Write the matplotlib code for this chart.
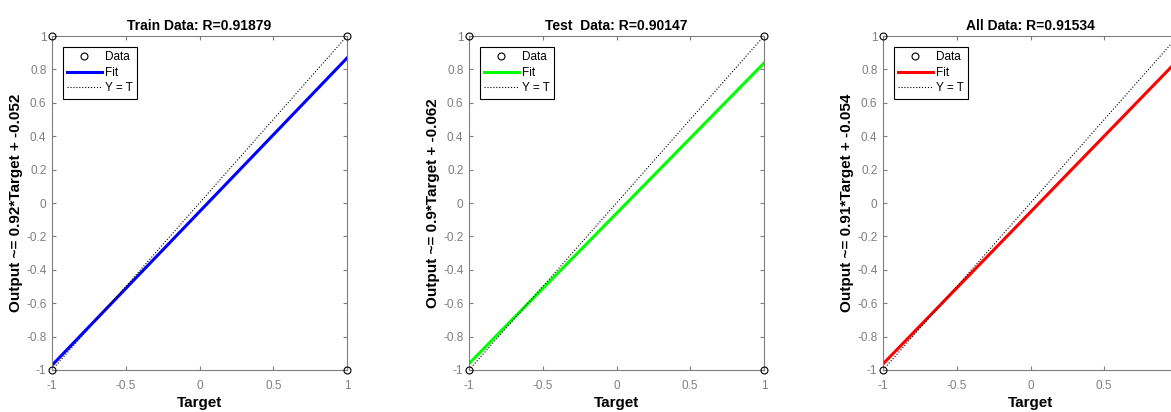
import numpy as np
import matplotlib.pyplot as plt

plt.rcParams['font.family'] = ['Liberation Sans', 'DejaVu Sans']

# panel data
titles = ['Train Data: R=0.91879', 'Test  Data: R=0.90147', 'All Data: R=0.91534']
slopes = [0.92, 0.9, 0.91]
intercepts = [-0.052, -0.062, -0.054]
ylabels = ['Output ~= 0.92*Target + -0.052',
           'Output ~= 0.9*Target + -0.062',
           'Output ~= 0.91*Target + -0.054']
fit_colors = ['blue', '#00ff00', 'red']
target = [-1, 1, -1, 1]
output = [-1, -1, 1, 1]
xticks = [-1, -0.5, 0, 0.5, 1]
xticklabels = ['-1', '-0.5', '0', '0.5', '1']
yticks = [-1, -0.8, -0.6, -0.4, -0.2, 0, 0.2, 0.4, 0.6, 0.8, 1]
yticklabels = ['-1', '-0.8', '-0.6', '-0.4', '-0.2', '0',
               '0.2', '0.4', '0.6', '0.8', '1']

fig = plt.figure(figsize=(11.71, 4.12), dpi=100)
lefts = [52, 469, 883]
gray = '#7f7f7f'

for i in range(3):
    ax = fig.add_axes([lefts[i] / 1171, 42 / 412, 295 / 1171, 334 / 412])
    xs = np.array([-1, 1])
    ax.plot(target, output, 'o', mfc='none', mec='black', ms=5, mew=0.8,
            label='Data', clip_on=False, zorder=5)
    ax.plot(xs, slopes[i] * xs + intercepts[i], color=fit_colors[i], lw=2.2,
            label='Fit')
    ax.plot(xs, xs, ':', color='black', lw=0.8, label='Y = T')
    ax.set_xlim(-1, 1)
    ax.set_ylim(-1, 1)
    ax.set_xticks(xticks)
    labels = list(xticklabels)
    if i == 2:
        # last panel runs off the right edge in the original
        labels[-1] = ''
    ax.set_xticklabels(labels)
    ax.set_yticks(yticks)
    ax.set_yticklabels(yticklabels)
    ax.tick_params(direction='in', top=True, right=True, length=3,
                   color=gray, labelcolor=gray, labelsize=8.5, width=0.8)
    ax.tick_params(axis='x', pad=7)
    ax.tick_params(axis='y', pad=4)
    for s in ax.spines.values():
        s.set_color(gray)
        s.set_linewidth(0.8)
    ax.set_title(titles[i], fontsize=10, fontweight='bold', pad=4)
    ax.set_xlabel('Target', fontsize=11, fontweight='bold', labelpad=3)
    ax.set_ylabel(ylabels[i], fontsize=11, fontweight='bold', labelpad=2)
    leg = ax.legend(loc='upper left', fontsize=8.5, fancybox=False,
                    framealpha=1, edgecolor='black', handlelength=2.9,
                    borderpad=0.4, labelspacing=0.3, handletextpad=0.25,
                    borderaxespad=0.9)
    leg.get_frame().set_linewidth(0.8)

fig.savefig('out.png', dpi=100)
